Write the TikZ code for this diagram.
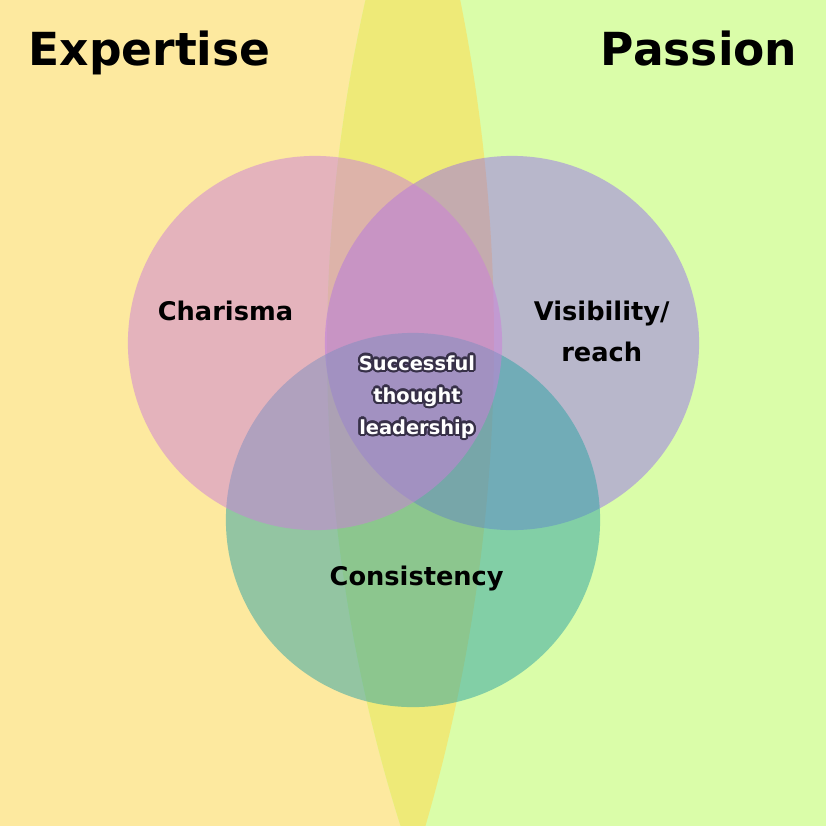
\documentclass[tikz,border=0pt]{standalone}
\usepackage{fontspec}
\setmainfont{DejaVu Sans}
\usepackage{contour}
\contourlength{0.65pt}

\definecolor{expertisebg}{HTML}{FDE99F}
\definecolor{passionbg}{HTML}{DAFDA9}
\definecolor{overlapbg}{HTML}{EEEA78}
\definecolor{charismafill}{RGB}{205,126,218}
\definecolor{visibilityfill}{RGB}{135,78,255}
\definecolor{consistencyfill}{RGB}{43,163,165}
\definecolor{glow}{RGB}{55,48,72}

\begin{document}
\begin{tikzpicture}[
    x=0.01cm, y=-0.01cm,
    ring/.style={circle, inner sep=0pt, minimum size=3.74cm},
    title/.style={font=\fontsize{12.95}{15}\selectfont\bfseries, inner sep=0pt},
    tag/.style={font=\fontsize{7.3}{11.67}\selectfont\bfseries, inner sep=0pt},
    core/.style={font=\fontsize{5.52}{9.1}\selectfont\bfseries, text=white, inner sep=0pt},
]

\useasboundingbox (0,0) rectangle (826,826);
\clip (0,0) rectangle (826,826);

\fill[expertisebg] (0,0) rectangle (826,826);
\fill[passionbg] (1909,348) circle[radius=15.81cm];
\begin{scope}
    \clip (1909,348) circle[radius=15.81cm];
    \fill[overlapbg] (-1237,342) circle[radius=17.30cm];
\end{scope}

\node[ring, fill=visibilityfill, fill opacity=0.4] (visibility) at (512,343) {};
\node[ring, fill=consistencyfill, fill opacity=0.5] (consistency) at (413,520) {};
\node[ring, fill=charismafill, fill opacity=0.5] (charisma) at (315,343) {};

\node[title, anchor=base west] (expertise) at (28,65) {Expertise};
\node[title, anchor=base east] (passion) at (798,65) {Passion};

\node[tag, anchor=base] (charismatext) at (225.5,320) {Charisma};
\node[tag, align=center] (visibilitytext) at (601.7,331) {Visibility/\\reach};
\node[tag, anchor=base] (consistencytext) at (416.7,585) {Consistency};
\node[core, align=center] (leadership) at (417,398)
    {\contour{glow}{Successful}\\\contour{glow}{thought}\\\contour{glow}{leadership}};

\end{tikzpicture}
\end{document}
